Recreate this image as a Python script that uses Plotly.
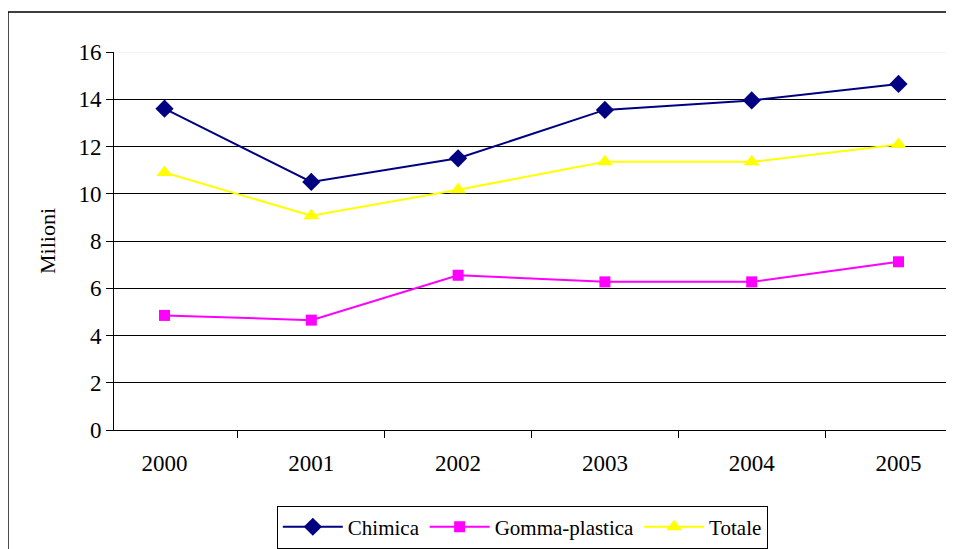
import plotly.graph_objects as go

years = ["2000", "2001", "2002", "2003", "2004", "2005"]
chimica = [13.6, 10.5, 11.5, 13.55, 13.95, 14.65]
gomma_plastica = [4.85, 4.65, 6.55, 6.27, 6.27, 7.12]
totale = [10.9, 9.07, 10.17, 11.35, 11.35, 12.08]

FONT = "Liberation Serif, Times New Roman, serif"

fig = go.Figure()
fig.add_trace(go.Scatter(
    x=years, y=chimica, name="Chimica", mode="lines+markers",
    line=dict(color="#000080", width=2),
    marker=dict(symbol="diamond", size=14, color="#000080"),
))
fig.add_trace(go.Scatter(
    x=years, y=gomma_plastica, name="Gomma-plastica", mode="lines+markers",
    line=dict(color="#ff00ff", width=2),
    marker=dict(symbol="square", size=11, color="#ff00ff"),
))
fig.add_trace(go.Scatter(
    x=years, y=totale, name="Totale", mode="lines+markers",
    line=dict(color="#ffff00", width=2),
    marker=dict(symbol="triangle-up", size=14, color="#ffff00"),
))

fig.update_xaxes(
    type="category", tickson="boundaries", ticks="outside", ticklen=7,
    tickcolor="black", showline=True, linecolor="black", linewidth=1,
    showgrid=False, ticklabelstandoff=12,
    tickfont=dict(family=FONT, size=23, color="black"),
)
fig.update_yaxes(
    range=[0, 16], tickvals=list(range(0, 17, 2)), ticks="outside", ticklen=7,
    tickcolor="black", showline=True, linecolor="black", linewidth=1,
    showgrid=True, gridcolor="black", gridwidth=1, zeroline=False,
    tickfont=dict(family=FONT, size=23, color="black"),
    title=dict(text="Milioni", font=dict(family=FONT, size=22, color="black"),
               standoff=16),
)

fig.add_shape(type="line", xref="paper", yref="y", x0=0, x1=1, y0=16, y1=16,
              line=dict(color="#e8e8e8", width=1), layer="above")
# outer chart border
fig.add_shape(type="rect", xref="paper", yref="paper",
              x0=-0.127, x1=1.2, y0=-0.6, y1=1.106,
              line=dict(color="black", width=1.5), layer="below")

fig.update_layout(
    width=946, height=541,
    paper_bgcolor="white", plot_bgcolor="white",
    margin=dict(l=106, r=5, t=44, b=119, autoexpand=False),
    font=dict(family=FONT, color="black"),
    showlegend=True,
    legend=dict(
        orientation="h", x=0.489, xanchor="center", y=-0.2, yanchor="top",
        bordercolor="black", borderwidth=1, bgcolor="white",
        font=dict(family=FONT, size=21, color="black"),
        itemwidth=60,
    ),
)

fig.write_html("out.html")
